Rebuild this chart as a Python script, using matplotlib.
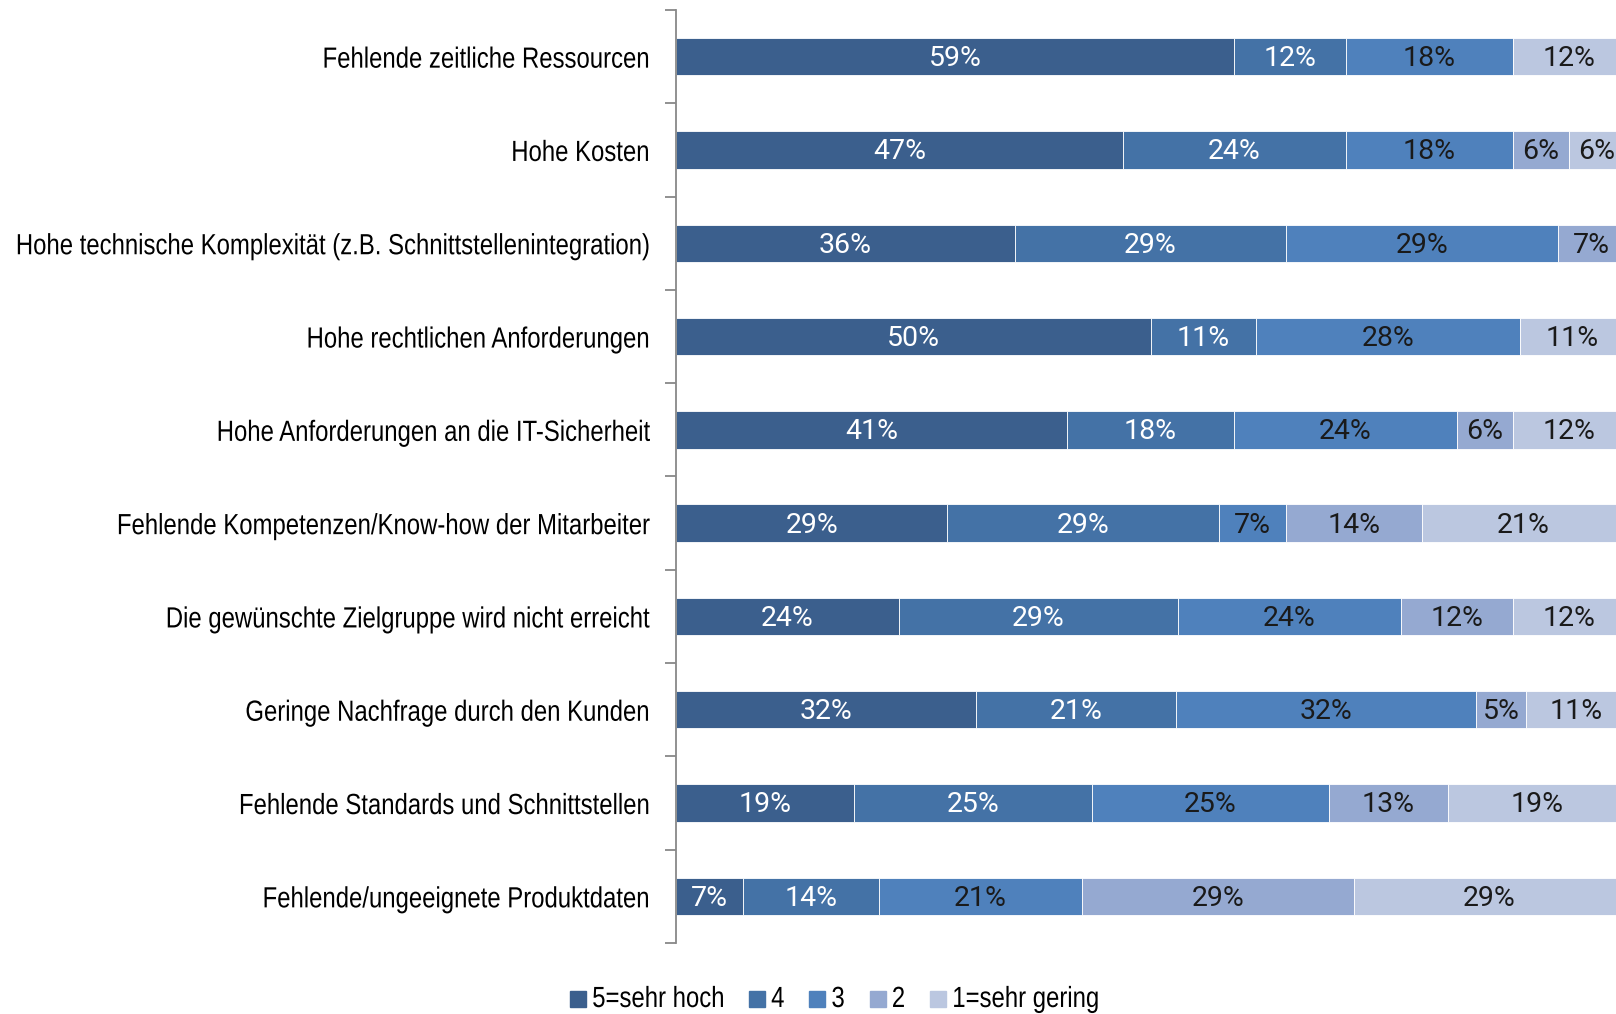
import matplotlib
matplotlib.use("Agg")
import matplotlib.pyplot as plt
from matplotlib.patches import Rectangle
from matplotlib.patheffects import AbstractPathEffect
from matplotlib.transforms import Affine2D
import numpy as np

# Kategorien (von oben nach unten)
kategorien = [
    "Fehlende zeitliche Ressourcen",
    "Hohe Kosten",
    "Hohe technische Komplexität (z.B. Schnittstellenintegration)",
    "Hohe rechtlichen Anforderungen",
    "Hohe Anforderungen an die IT-Sicherheit",
    "Fehlende Kompetenzen/Know-how der Mitarbeiter",
    "Die gewünschte Zielgruppe wird nicht erreicht",
    "Geringe Nachfrage durch den Kunden",
    "Fehlende Standards und Schnittstellen",
    "Fehlende/ungeeignete Produktdaten",
]

# Anteile in % je Bewertung
sehr_hoch = [58.8, 47.1, 35.7, 50.0, 41.2, 28.6, 23.5, 31.6, 18.8, 7.1]
stufe_4 = [11.8, 23.5, 28.6, 11.1, 17.6, 28.6, 29.4, 21.1, 25.0, 14.3]
stufe_3 = [17.6, 17.6, 28.6, 27.8, 23.5, 7.1, 23.5, 31.6, 25.0, 21.4]
stufe_2 = [0, 5.9, 7.1, 0, 5.9, 14.3, 11.8, 5.3, 12.5, 28.6]
sehr_gering = [11.8, 5.9, 0, 11.1, 11.8, 21.4, 11.8, 10.5, 18.8, 28.6]

serien = [sehr_hoch, stufe_4, stufe_3, stufe_2, sehr_gering]
legende = ["5=sehr hoch", "4", "3", "2", "1=sehr gering"]
farben = ["#3B5F8D", "#4472A6", "#4F81BC", "#95A9D1", "#BBC7E0"]
textfarben = ["white", "white", "#1a1a1a", "#1a1a1a", "#1a1a1a"]

FONT = ["Liberation Sans", "DejaVu Sans"]
SCHMAL = 0.82  # Arial Narrow nachbilden


class Schmal(AbstractPathEffect):
    # Text horizontal stauchen (kein Narrow-Font installiert)
    def __init__(self, sx=SCHMAL, anker="right"):
        super().__init__()
        self.sx = sx
        self.anker = anker

    def draw_path(self, renderer, gc, tpath, affine, rgbFace=None):
        ext = tpath.transformed(affine).get_extents()
        x0 = ext.x1 if self.anker == "right" else ext.x0
        affine = affine + Affine2D().translate(-x0, 0).scale(self.sx, 1).translate(x0, 0)
        renderer.draw_path(gc, tpath, affine, rgbFace)


W, H = 1616, 1014
fig = plt.figure(figsize=(W / 100, H / 100), dpi=100)
ax = fig.add_axes([676 / W, 1 - 943 / H, 949 / W, 933 / H])

y = np.arange(len(kategorien))
links = np.zeros(len(kategorien))
for werte, name, farbe, tf in zip(serien, legende, farben, textfarben):
    werte = np.array(werte, dtype=float)
    ax.barh(y, werte, left=links, height=0.4, color=farbe,
            edgecolor="white", linewidth=0.6, label=name)
    for yi, l, w in zip(y, links, werte):
        if w > 0:
            ax.text(l + w / 2, yi + 0.02, f"{int(w + 0.5)}%", ha="center", va="center",
                    color=tf, fontsize=20.5, family="Roboto", fontweight="normal")
    links += werte

ax.set_xlim(0, 100)
ax.set_ylim(len(kategorien) - 0.5, -0.5)
ax.set_yticks(y)
ax.set_yticklabels(kategorien, family=FONT, fontsize=21)
for t in ax.get_yticklabels():
    t.set_path_effects([Schmal(anker="right")])
ax.set_yticks(np.arange(len(kategorien) + 1) - 0.5, minor=True)
ax.tick_params(axis="y", which="major", length=0, pad=19)
ax.tick_params(axis="y", which="minor", length=8, width=1.3, color="#888888")
ax.set_xticks([])
for s in ["top", "right", "bottom"]:
    ax.spines[s].set_visible(False)
ax.spines["left"].set_color("#888888")
ax.spines["left"].set_linewidth(1.3)

# Legende unten, manuell gesetzt
renderer = fig.canvas.get_renderer()
x = 570
for name, farbe in zip(legende, farben):
    fig.patches.append(Rectangle((x / W, 1 - 1007 / H), 16 / W, 16 / H,
                                 transform=fig.transFigure, color=farbe))
    t = fig.text((x + 22) / W, 1 - 1007 / H, name, family=FONT, fontsize=21,
                 ha="left", va="baseline")
    t.set_path_effects([Schmal(anker="left")])
    breite = t.get_window_extent(renderer).width * SCHMAL
    x = x + 22 + breite + 25

fig.savefig("out.png", dpi=100)
